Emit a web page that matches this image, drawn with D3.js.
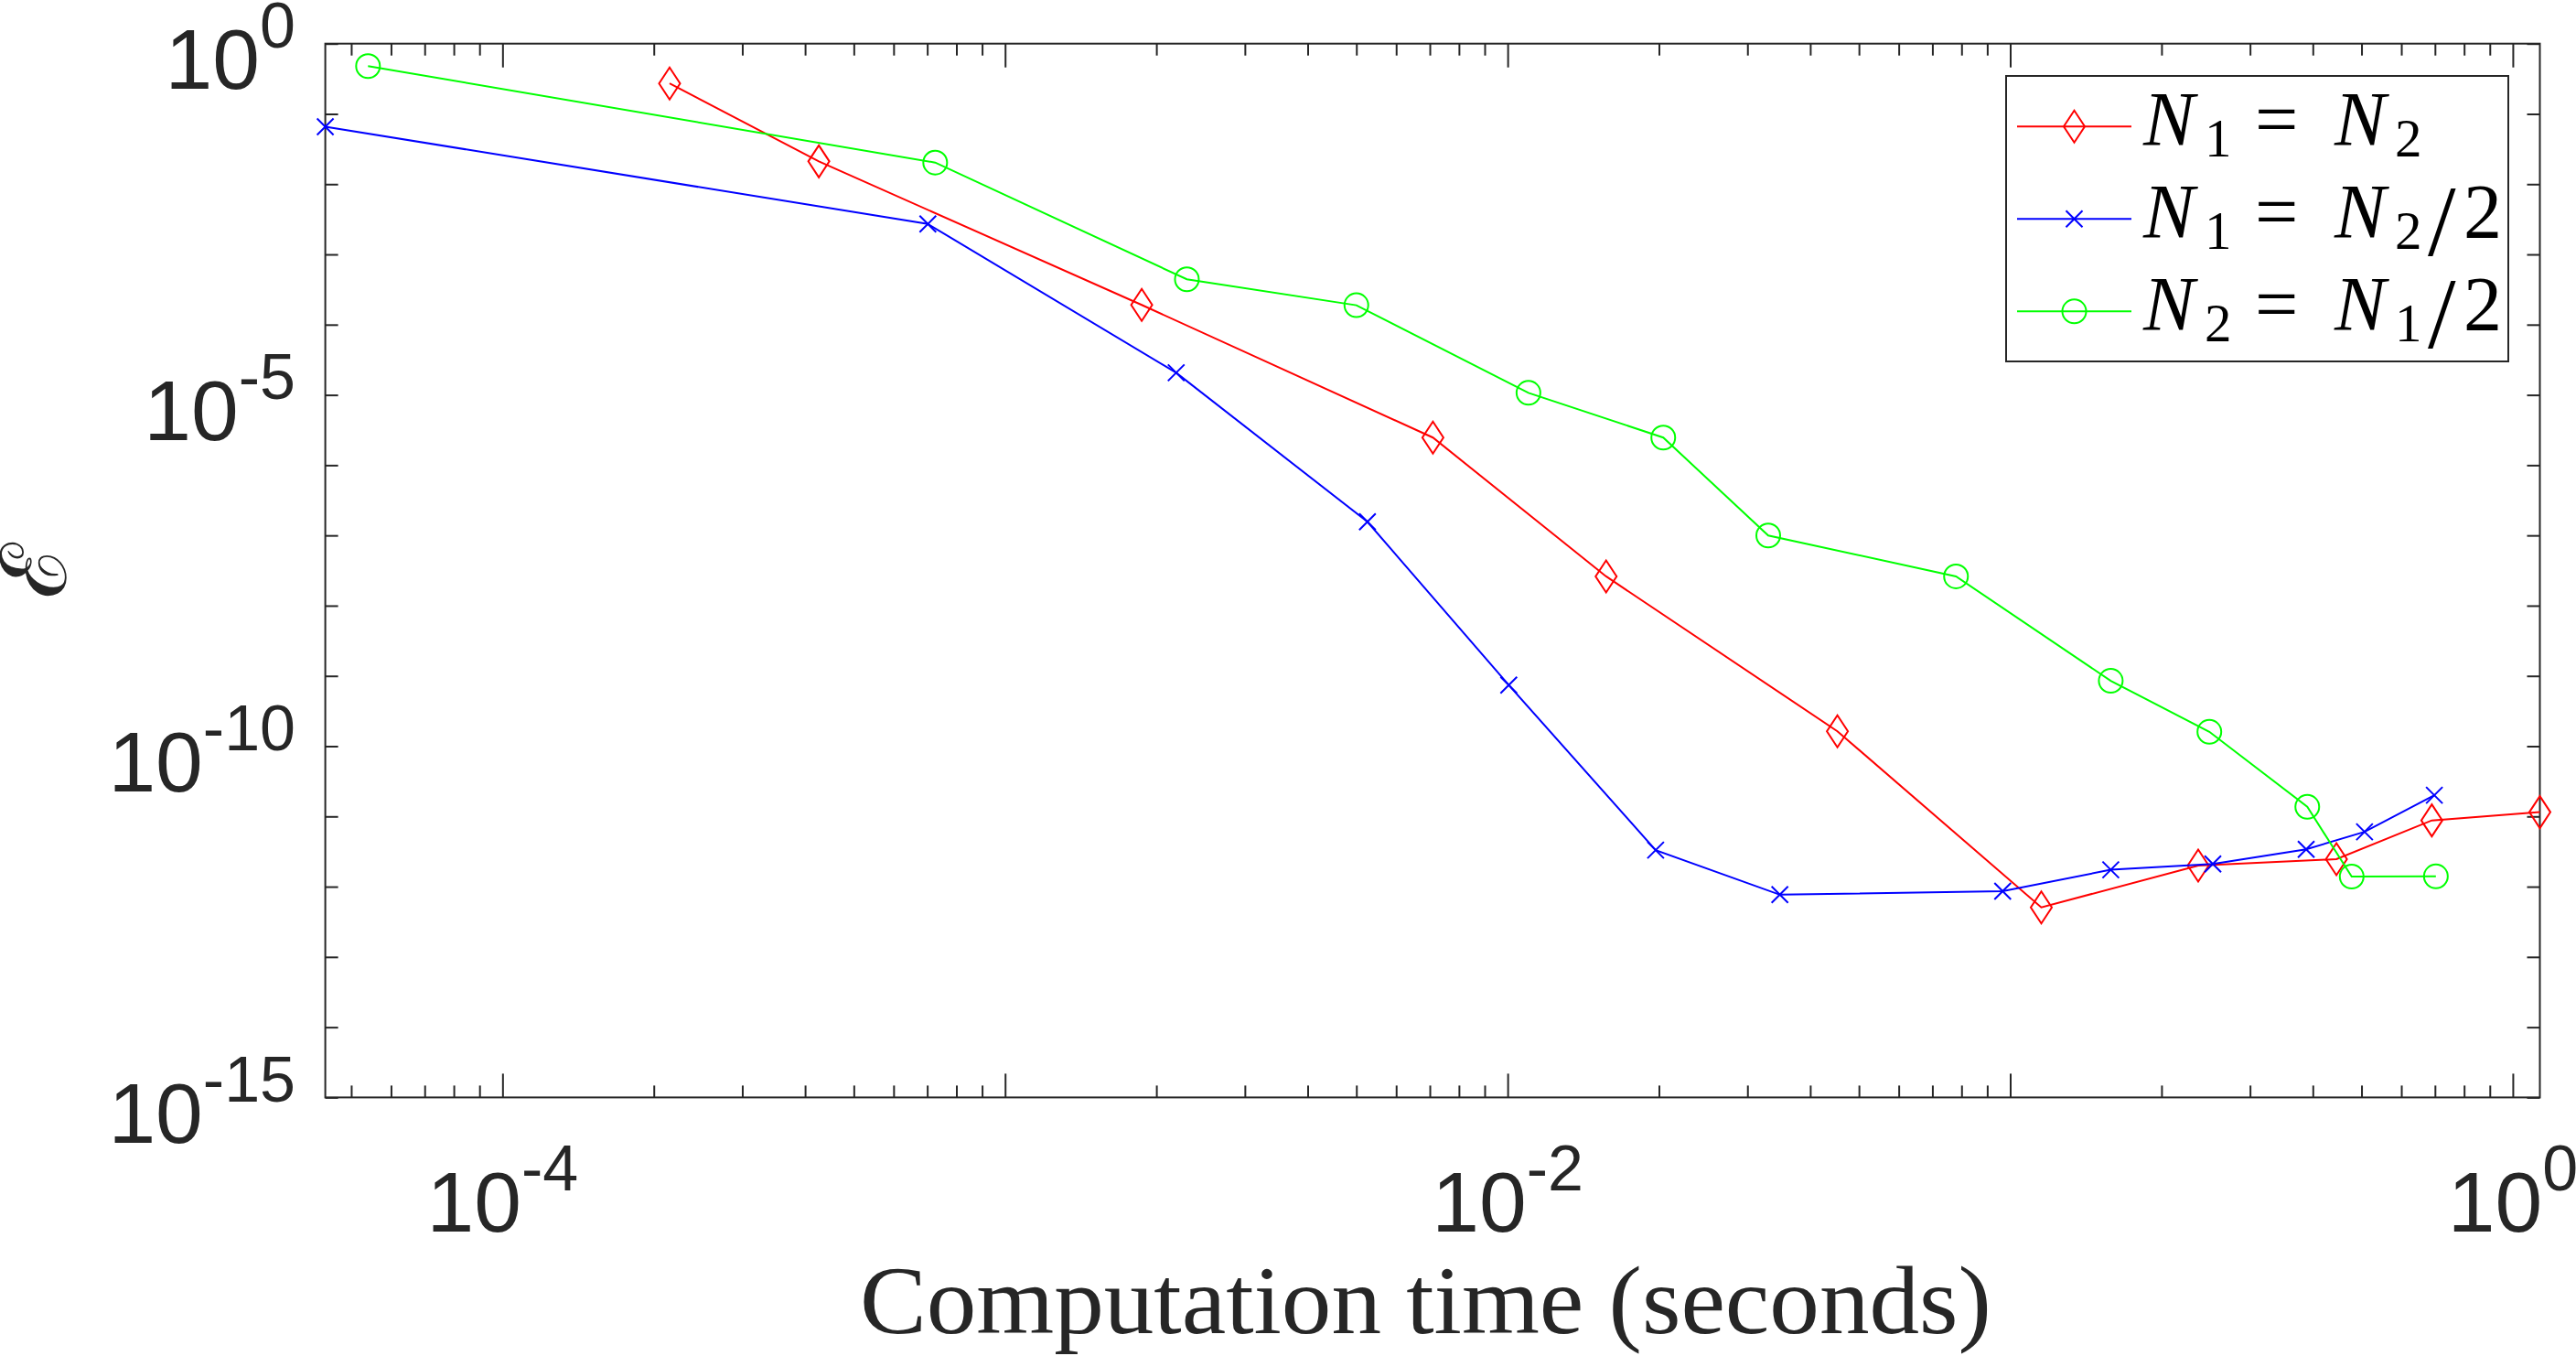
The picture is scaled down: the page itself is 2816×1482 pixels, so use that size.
<!DOCTYPE html>
<html>
<head>
<meta charset="utf-8">
<script src="https://cdn.jsdelivr.net/npm/d3@7"></script>
<style>
body { margin: 0; background: #fff; }
</style>
</head>
<body>
<div id="chart"></div>
<script>
// values: computation time (s) and error
var timeEqual = [2.15e-4, 4.26e-4, 1.87e-3, 7.10e-3, 1.57e-2, 4.53e-2, 0.1153, 0.2366, 0.4457, 0.690, 1.132];
var errEqual  = [0.271, 2.11e-2, 1.91e-4, 2.47e-6, 2.61e-8, 1.63e-10, 5.07e-13, 2.00e-12, 2.46e-12, 8.77e-12, 1.15e-11];

var timeN1Half = [4.44e-5, 7.02e-4, 2.19e-3, 5.26e-3, 1.005e-2, 1.97e-2, 3.48e-2, 9.66e-2, 0.1585, 0.253, 0.388, 0.507, 0.698];
var errN1Half  = [6.58e-2, 2.71e-3, 2.07e-5, 1.56e-7, 7.41e-10, 3.31e-12, 7.69e-13, 8.63e-13, 1.74e-12, 2.10e-12, 3.40e-12, 6.03e-12, 2.00e-11];

var timeN2Half = [5.40e-5, 7.26e-4, 2.30e-3, 5.00e-3, 1.10e-2, 2.04e-2, 3.30e-2, 7.80e-2, 0.1585, 0.249, 0.390, 0.478, 0.703];
var errN2Half  = [0.479, 2.03e-2, 4.42e-4, 1.89e-4, 1.07e-5, 2.47e-6, 9.98e-8, 2.61e-8, 8.51e-10, 1.60e-10, 1.37e-11, 1.39e-12, 1.40e-12];

var xTickExps = [-4, -2, 0];
var yTickExps = [0, -5, -10, -15];
var xTitle = "Computation time (seconds)";
var yTitle = "\u2130";

var series = [
  {x: timeEqual,  y: errEqual,  color: "#ff0000", marker: "diamond",
   label: [["N", "i"], ["1", "s"], ["=", "r"], ["N", "i"], ["2", "s"]]},
  {x: timeN1Half, y: errN1Half, color: "#0000ff", marker: "cross",
   label: [["N", "i"], ["1", "s"], ["=", "r"], ["N", "i"], ["2", "s"], ["/", "r"], ["2", "r"]]},
  {x: timeN2Half, y: errN2Half, color: "#00ff00", marker: "circle",
   label: [["N", "i"], ["2", "s"], ["=", "r"], ["N", "i"], ["1", "s"], ["/", "r"], ["2", "r"]]}
];

var W = 2816, H = 1482;
var plotL = 355.6, plotT = 47.7, plotR = 2776.5, plotB = 1199.4;
var axisColor = "#262626";

var svg = d3.select("#chart").append("svg")
    .attr("width", W)
    .attr("height", H)
    .style("display", "block");

var allX = [].concat(timeEqual, timeN1Half, timeN2Half);
var x = d3.scaleLog().domain(d3.extent(allX)).range([plotL, plotR]);
var y = d3.scaleLog().domain([1e-15, 1]).range([plotB, plotT]);

// tick positions
var xMinor = [], xMajor = [];
for (var k = -5; k <= 0; k++) {
  for (var m = 1; m <= 9; m++) {
    var v = m * Math.pow(10, k);
    if (v < x.domain()[0] || v > x.domain()[1]) continue;
    if (m == 1) xMajor.push(v); else xMinor.push(v);
  }
}
var yDecades = d3.range(-15, 1).map(function(e) { return Math.pow(10, e); });

function styleAxis(g) {
  g.select(".domain").remove();
  g.selectAll("line").attr("stroke", axisColor).attr("stroke-width", 2);
}

svg.append("g").attr("transform", "translate(0," + plotB + ")")
    .call(d3.axisBottom(x).tickValues(xMinor).tickSize(-13).tickFormat("")).call(styleAxis);
svg.append("g").attr("transform", "translate(0," + plotB + ")")
    .call(d3.axisBottom(x).tickValues(xMajor).tickSize(-26).tickFormat("")).call(styleAxis);
svg.append("g").attr("transform", "translate(0," + plotT + ")")
    .call(d3.axisTop(x).tickValues(xMinor).tickSize(-13).tickFormat("")).call(styleAxis);
svg.append("g").attr("transform", "translate(0," + plotT + ")")
    .call(d3.axisTop(x).tickValues(xMajor).tickSize(-26).tickFormat("")).call(styleAxis);
svg.append("g").attr("transform", "translate(" + plotL + ",0)")
    .call(d3.axisLeft(y).tickValues(yDecades).tickSize(-14).tickFormat("")).call(styleAxis);
svg.append("g").attr("transform", "translate(" + plotR + ",0)")
    .call(d3.axisRight(y).tickValues(yDecades).tickSize(-14).tickFormat("")).call(styleAxis);

svg.append("rect")
    .attr("x", plotL).attr("y", plotT)
    .attr("width", plotR - plotL).attr("height", plotB - plotT)
    .attr("fill", "none").attr("stroke", axisColor).attr("stroke-width", 2);

// tick labels 10^n
function powLabel(sel, e) {
  sel.append("tspan").text("10");
  sel.append("tspan").attr("dy", -45).attr("font-size", 70).text(e == 0 ? "0" : "-" + Math.abs(e));
}

svg.selectAll(".xlab").data(xTickExps).enter().append("text")
    .attr("class", "xlab")
    .attr("x", function(e) { return x(Math.pow(10, e)); })
    .attr("y", 1346)
    .attr("text-anchor", "middle")
    .attr("font-family", "Liberation Sans, Arial, sans-serif")
    .attr("font-size", 93)
    .attr("fill", axisColor)
    .each(function(e) { powLabel(d3.select(this), e); });

svg.selectAll(".ylab").data(yTickExps).enter().append("text")
    .attr("class", "ylab")
    .attr("x", 323)
    .attr("y", function(e) { return y(Math.pow(10, e)) + 49.5; })
    .attr("text-anchor", "end")
    .attr("font-family", "Liberation Sans, Arial, sans-serif")
    .attr("font-size", 93)
    .attr("fill", axisColor)
    .each(function(e) { powLabel(d3.select(this), e); });

// axis titles
svg.append("text")
    .attr("x", (939.8 + 2177) / 2)
    .attr("y", 1457)
    .attr("text-anchor", "middle")
    .attr("font-family", "Liberation Serif, Times New Roman, serif")
    .attr("font-size", 106)
    .attr("textLength", 1237)
    .attr("lengthAdjust", "spacingAndGlyphs")
    .attr("fill", axisColor)
    .text(xTitle);

svg.append("text")
    .attr("transform", "translate(37," + (plotT + plotB) / 2 + ") rotate(-90)")
    .attr("text-anchor", "middle")
    .attr("dominant-baseline", "central")
    .attr("font-family", "DejaVu Serif, serif")
    .attr("font-size", 100)
    .attr("fill", axisColor)
    .text(yTitle);

// markers
function drawMarker(g, type, color) {
  if (type == "diamond") {
    g.append("path").attr("d", "M0,-17.5L11.5,0L0,17.5L-11.5,0Z");
  } else if (type == "cross") {
    g.append("path").attr("d", "M-9,-9L9,9M-9,9L9,-9");
  } else {
    g.append("circle").attr("r", 13);
  }
  g.selectAll("path,circle").attr("fill", "none").attr("stroke", color).attr("stroke-width", 2);
}

var line = d3.line()
    .x(function(d) { return x(d[0]); })
    .y(function(d) { return y(d[1]); });

series.forEach(function(s) {
  var pts = s.x.map(function(t, i) { return [t, s.y[i]]; });
  var g = svg.append("g");
  g.append("path")
      .datum(pts)
      .attr("d", line)
      .attr("fill", "none")
      .attr("stroke", s.color)
      .attr("stroke-width", 2);
  g.selectAll(".pt").data(pts).enter().append("g")
      .attr("transform", function(d) { return "translate(" + x(d[0]) + "," + y(d[1]) + ")"; })
      .each(function() { drawMarker(d3.select(this), s.marker, s.color); });
});

// legend
var lg = svg.append("g").attr("transform", "translate(2193,83)");
lg.append("rect")
    .attr("width", 549).attr("height", 312)
    .attr("fill", "#fff").attr("stroke", axisColor).attr("stroke-width", 2);

// x offsets of the label pieces inside the legend
var pieceX5 = [150, 217, 272, 359, 425];
var pieceX7 = [150, 217, 272, 359, 425, 461, 500];

series.forEach(function(s, i) {
  var cy = 55.3 + i * 101;
  var row = lg.append("g");
  row.append("line")
      .attr("x1", 12).attr("x2", 137).attr("y1", cy).attr("y2", cy)
      .attr("stroke", s.color).attr("stroke-width", 2);
  var mg = row.append("g").attr("transform", "translate(74.5," + cy + ")");
  drawMarker(mg, s.marker, s.color);

  var px = s.label.length == 5 ? pieceX5 : pieceX7;
  var txt = row.append("text")
      .attr("y", cy + 20.7)
      .attr("font-family", "Liberation Serif, Times New Roman, serif")
      .attr("font-size", 84)
      .attr("fill", "#000");
  s.label.forEach(function(p, j) {
    var ts = txt.append("tspan").attr("x", px[j]).text(p[0]);
    if (p[1] == "i") ts.attr("font-style", "italic").attr("y", cy + 20.7);
    if (p[1] == "r") ts.attr("y", cy + 20.7);
    if (p[1] == "s") ts.attr("font-size", 59).attr("y", cy + 32.5);
    if (p[0] == "/") ts.attr("font-size", 110).attr("y", cy + 40);
  });
});
</script>
</body>
</html>
